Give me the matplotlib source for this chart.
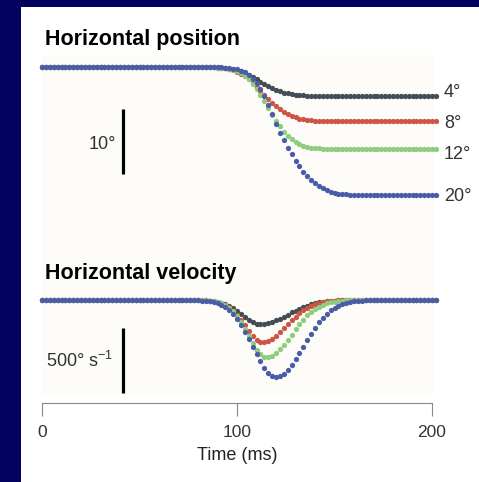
import numpy as np
import matplotlib
matplotlib.use('Agg')
import matplotlib.pyplot as plt
from matplotlib.patches import Rectangle

plt.rcParams['font.family'] = ['Liberation Sans', 'DejaVu Sans']

# sample times (ms), one dot every 2 ms
t_ms = np.arange(0, 204, 2)

# horizontal position, downward deflection in degrees
pos_4 = [0] * 40 + [
    0, 0, 0, 0.01, 0.02, 0.04, 0.07, 0.12, 0.19, 0.30,          # 80-98
    0.45, 0.64, 0.88, 1.17, 1.50, 1.85, 2.21, 2.57, 2.90, 3.21,  # 100-118
    3.48, 3.71, 3.90, 4.04, 4.16, 4.24, 4.30, 4.34, 4.36, 4.38,  # 120-138
    4.39] + [4.40] * 31
pos_8 = [0] * 40 + [
    0, 0, 0.01, 0.01, 0.03, 0.05, 0.09, 0.16, 0.27, 0.43,
    0.66, 0.97, 1.36, 1.84, 2.39, 3.00, 3.64, 4.29, 4.91, 5.50,
    6.03, 6.51, 6.92, 7.26, 7.54, 7.75, 7.92, 8.04, 8.13, 8.19,
    8.23, 8.26, 8.27, 8.28, 8.29] + [8.30] * 27
pos_12 = [0] * 40 + [
    0, 0, 0, 0.01, 0.02, 0.04, 0.07, 0.13, 0.22, 0.37,
    0.59, 0.89, 1.31, 1.85, 2.53, 3.33, 4.25, 5.25, 6.30, 7.30,
    8.26, 9.14, 9.93, 10.60, 11.15, 11.58, 11.91, 12.15, 12.31, 12.42,
    12.50, 12.54, 12.57, 12.58, 12.59] + [12.60] * 27
pos_20 = [0] * 40 + [
    0, 0, 0, 0.01, 0.01, 0.02, 0.03, 0.06, 0.11, 0.19,
    0.31, 0.51, 0.79, 1.20, 1.75, 2.48, 3.39, 4.49, 5.77, 7.19,
    8.72, 10.18, 11.31, 12.40, 13.44, 14.41, 15.31, 16.12, 16.83, 17.44,
    17.95, 18.38, 18.73, 19.01, 19.22, 19.39, 19.51, 19.60, 19.66, 19.71,
    19.74, 19.76, 19.78, 19.79] + [19.80] * 18

# horizontal velocity, speed in deg/s
vel_4 = [0] * 40 + [
    1, 1, 3, 5, 8, 13, 21, 32, 46, 64,
    85, 108, 131, 152, 170, 181, 185, 183, 178, 169,
    157, 143, 128, 112, 96, 81, 67, 54, 43, 33,
    25, 19, 14, 10, 7, 5, 3, 2, 1, 1] + [0] * 22
vel_8 = [0] * 40 + [
    0, 1, 2, 4, 7, 12, 21, 35, 54, 81,
    114, 153, 196, 239, 277, 306, 321, 322, 314, 298,
    276, 249, 219, 188, 157, 128, 102, 79, 59, 44,
    31, 22, 15, 10, 6, 4, 2, 2, 1, 0] + [0] * 22
vel_12 = [0] * 40 + [
    0, 1, 2, 4, 8, 14, 23, 38, 59, 88,
    126, 172, 224, 280, 334, 381, 417, 436, 437, 427,
    407, 379, 345, 306, 266, 225, 186, 151, 119, 92,
    69, 51, 36, 26, 18, 12, 8, 5, 3, 2] + [0] * 22
vel_20 = [0] * 38 + [
    1, 1,
    2, 4, 7, 11, 17, 26, 39, 57, 80, 110,
    147, 192, 243, 299, 358, 417, 472, 521, 558, 582,
    590, 584, 566, 538, 501, 457, 409, 358, 307, 258,
    213, 172, 136, 105, 80, 59, 43, 31, 22, 15,
    10, 7, 4, 3, 2, 1] + [0] * 16

amp_labels = ['4°', '8°', '12°', '20°']
colors = ['#434d56', '#cc5545', '#8fcc7e', '#4a5ca8']

W, H = 479, 482


def box(x0, y0, x1, y1):
    return [x0 / W, 1 - y1 / H, (x1 - x0) / W, (y1 - y0) / H]


fig = plt.figure(figsize=(W / 100, H / 100), dpi=100, facecolor='#03035f')
fig.patches.append(Rectangle((21 / W, 0), 1, 1 - 7 / H, transform=fig.transFigure,
                             facecolor='white', edgecolor='none', zorder=-2))
fig.patches.append(Rectangle((42 / W, 1 - 395 / H), (434 - 42) / W, (395 - 55) / H,
                             transform=fig.transFigure, facecolor='#fdfcf9',
                             edgecolor='none', zorder=-1))

# position panel
ax_p = fig.add_axes(box(42, 55, 434, 215))
ax_p.set_xlim(0, 201)
ax_p.set_ylim(-22.83, 1.9)
for p, c in zip([pos_4, pos_8, pos_12, pos_20], colors):
    ax_p.plot(t_ms, -np.array(p), 'o', ms=3.8, color=c, mec='none', clip_on=False)
# label nudges (deg) so each sits where it does in the original
for p, lab, dy in zip([pos_4, pos_8, pos_12, pos_20], amp_labels, [0.45, -0.45, -0.95, -0.15]):
    ax_p.text(206, -p[-1] + dy, lab, fontsize=13, color='#333333', va='center')
ax_p.plot([41.5, 41.5], [-6.45, -16.45], color='black', lw=2.3, solid_capstyle='butt')
ax_p.text(38, -11.9, '10°', fontsize=13, color='#333333', ha='right', va='center')

# velocity panel
ax_v = fig.add_axes(box(42, 285, 434, 395))
ax_v.set_xlim(0, 201)
ax_v.set_ylim(-730.8, 115.4)
for v, c in zip([vel_4, vel_8, vel_12, vel_20], colors):
    ax_v.plot(t_ms, -np.array(v), 'o', ms=3.8, color=c, mec='none', clip_on=False)
ax_v.plot([41.5, 41.5], [-215, -715], color='black', lw=2.3, solid_capstyle='butt')
ax_v.text(36.4, -470, r'500° s$^{\mathregular{-1}}$', fontsize=13, color='#333333',
          ha='right', va='center')

for ax in (ax_p, ax_v):
    ax.set_facecolor('none')
    for s in ['top', 'right', 'left']:
        ax.spines[s].set_visible(False)
    ax.set_yticks([])
ax_p.spines['bottom'].set_visible(False)
ax_p.set_xticks([])

ax_v.spines['bottom'].set_position(('outward', 5.8))
ax_v.spines['bottom'].set_bounds(0, 200)
ax_v.spines['bottom'].set_color('#888888')
ax_v.spines['bottom'].set_linewidth(0.8)
ax_v.set_xticks([0, 100, 200])
ax_v.tick_params(axis='x', direction='out', length=9.4, width=0.8, color='#888888',
                 labelsize=12.5, labelcolor='#333333', pad=6.5)

fig.text(45 / W, 1 - 45 / H, 'Horizontal position', fontsize=15.5, fontweight='bold',
         va='baseline')
fig.text(45 / W, 1 - 279 / H, 'Horizontal velocity', fontsize=15.5, fontweight='bold',
         va='baseline')
fig.text(237 / W, 1 - 455 / H, 'Time (ms)', fontsize=13, color='#222222',
         ha='center', va='center')

fig.savefig('out.png', dpi=100, facecolor=fig.get_facecolor())
